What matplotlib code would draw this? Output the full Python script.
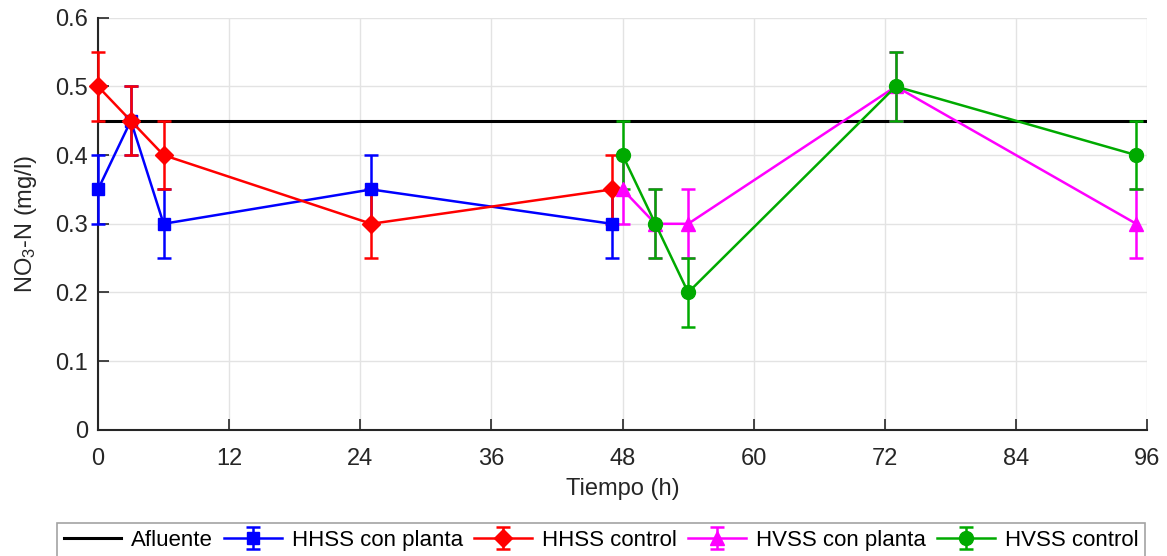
import numpy as np
import matplotlib.pyplot as plt
from matplotlib.ticker import FormatStrFormatter

plt.rcParams['font.family'] = ['Liberation Sans', 'DejaVu Sans']
plt.rcParams['mathtext.default'] = 'regular'

# data
afluente_x = [0, 96]
afluente_y = [0.45, 0.45]

hh_x = [0, 3, 6, 25, 47]
hhss_planta = [0.35, 0.45, 0.30, 0.35, 0.30]
hhss_control = [0.50, 0.45, 0.40, 0.30, 0.35]

hv_x = [48, 51, 54, 73, 95]
hvss_planta = [0.35, 0.30, 0.30, 0.50, 0.30]
hvss_control = [0.40, 0.30, 0.20, 0.50, 0.40]

err = 0.05

fig = plt.figure(figsize=(11.67, 5.56), dpi=100)
ax = fig.add_axes([0.084, 0.227, 0.899, 0.741])

ax.plot(afluente_x, afluente_y, color='black', lw=2.2, label='Afluente', zorder=3)

series = [
    (hh_x, hhss_planta, '#0000ff', 's', 9, 'HHSS con planta'),
    (hh_x, hhss_control, '#ff0000', 'D', 9, 'HHSS control'),
    (hv_x, hvss_planta, '#ff00ff', '^', 10, 'HVSS con planta'),
    (hv_x, hvss_control, '#00aa00', 'o', 10, 'HVSS control'),
]
for x, y, c, m, ms, lab in series:
    lines = ax.errorbar(x, y, yerr=err, color=c, marker=m, markersize=ms, label=lab,
                        lw=1.8, elinewidth=1.8, capsize=5, capthick=1.8, zorder=4)
    for art in lines.get_children():
        art.set_clip_on(False)

ax.set_xlim(0, 96)
ax.set_ylim(0, 0.6)
ax.set_xticks(np.arange(0, 97, 12))
ax.set_yticks(np.arange(0, 0.61, 0.1))
ax.yaxis.set_major_formatter(FormatStrFormatter('%g'))
ax.grid(True, color='#e3e3e3', lw=1)
ax.set_axisbelow(True)
for s in ['top', 'right']:
    ax.spines[s].set_visible(False)
for s in ['left', 'bottom']:
    ax.spines[s].set_color('#262626')
    ax.spines[s].set_linewidth(1.5)
ax.tick_params(direction='in', length=8, width=1.2, colors='#262626', labelsize=17, pad=7)
ax.tick_params(axis='x', pad=13)

ax.set_xlabel('Tiempo (h)', fontsize=17, color='#262626', labelpad=6)
ax.set_ylabel('NO$_3$-N (mg/l)', fontsize=17, color='#262626', labelpad=12)

leg = fig.legend(loc='upper center', bbox_to_anchor=(0.515, 0.0594), ncol=5, fontsize=16,
                 frameon=True, fancybox=False, edgecolor='#8c8c8c', borderaxespad=0,
                 handlelength=2.6, handletextpad=0.45, columnspacing=0.5, borderpad=0.3)
leg.get_frame().set_linewidth(1.2)

plt.savefig('out.png', dpi=100)
